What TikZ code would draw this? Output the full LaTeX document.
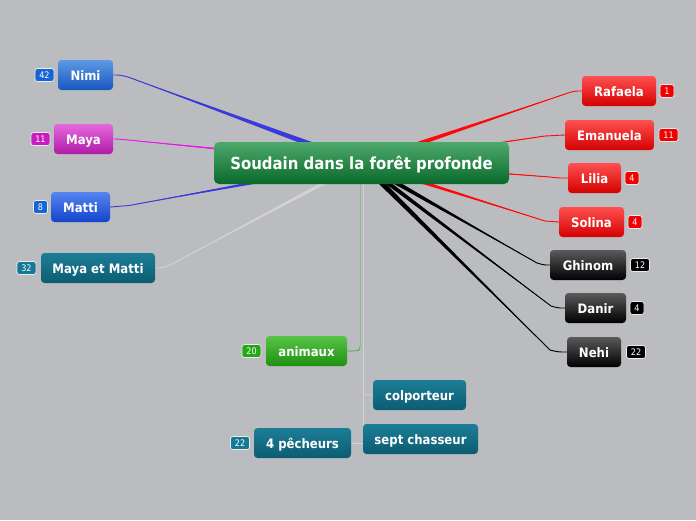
\documentclass[tikz,border=0pt]{standalone}
\usepackage{fontspec}
\setmainfont{DejaVu Sans Condensed}
\usetikzlibrary{calc}
\definecolor{bg}{HTML}{BBBCC0}
\definecolor{lblue}{HTML}{3A3AD8}
\definecolor{lmag}{HTML}{F010F0}
\definecolor{lred}{HTML}{FF0808}
\definecolor{lgrey}{HTML}{D2D2D4}
\definecolor{lgreen}{HTML}{3CA83C}
\pgfdeclarelayer{back}
\pgfdeclarelayer{lines}
\pgfsetlayers{back,lines,main}
\newcommand\taper[5]{% color, halfwidth, bend, control, target
  \fill[#1] ($(c)+(0,#2)$) -- (#3) -- ($(c)+(0,-#2)$) -- cycle;
  \draw[#1, line width=0.9pt] (c) -- (#3) .. controls (#4) .. (#5);
}
\begin{document}
\begin{tikzpicture}[x=1pt,y=-1pt,
  box/.style={rounded corners=3.5pt, text=white, minimum height=30, inner sep=0,
    text height=11pt, text depth=0pt,
    font=\bfseries\fontsize{13}{15}\selectfont},
  badge/.style={rounded corners=2.5pt, draw=white!85!gray, line width=0.7pt, text=white,
    minimum height=13, minimum width=19, inner sep=1, font=\fontsize{9}{10}\selectfont},
  bluebox/.style={box, top color=Blue1, bottom color=Blue2},
  mblue/.style={box, top color=MBlue1, bottom color=MBlue2},
  magbox/.style={box, top color=Mag1, bottom color=Mag2},
  tealbox/.style={box, top color=Teal1, bottom color=Teal2},
  redbox/.style={box, top color=Red1, bottom color=Red2},
  blackbox/.style={box, top color=Blk1, bottom color=Blk2},
  greenbox/.style={box, top color=Grn1, bottom color=Grn2},
]
\definecolor{Blue1}{HTML}{5E98E4}\definecolor{Blue2}{HTML}{1858C0}
\definecolor{MBlue1}{HTML}{5584EE}\definecolor{MBlue2}{HTML}{1444CC}
\definecolor{Mag1}{HTML}{E468DC}\definecolor{Mag2}{HTML}{B01CA8}
\definecolor{Teal1}{HTML}{1C7E96}\definecolor{Teal2}{HTML}{0C5C72}
\definecolor{Red1}{HTML}{FF5050}\definecolor{Red2}{HTML}{D40000}
\definecolor{Blk1}{HTML}{5A5A5A}\definecolor{Blk2}{HTML}{000000}
\definecolor{Grn1}{HTML}{58C448}\definecolor{Grn2}{HTML}{1E9010}
\definecolor{CG1}{HTML}{4EAA6C}\definecolor{CG2}{HTML}{08682A}
\definecolor{BadgeBlue}{HTML}{1565D8}
\definecolor{BadgeMag}{HTML}{C81CC0}
\definecolor{BadgeTeal}{HTML}{127A92}
\definecolor{BadgeRed}{HTML}{F00000}
\definecolor{BadgeGrn}{HTML}{24A818}
\begin{pgfonlayer}{back}
\fill[bg] (0,0) rectangle (696,520);
\end{pgfonlayer}
\useasboundingbox (0,0) rectangle (696,520);

% central
\node[box, top color=CG1, bottom color=CG2, minimum width=295, minimum height=42,
  rounded corners=5pt, text height=13.5pt, text depth=0pt,
  font=\bfseries\fontsize{16.6}{18}\selectfont] (c) at (361.5,163) {Soudain dans la forêt profonde};

% left
\node[bluebox, minimum width=55] (nimi) at (85.5,75) {Nimi};
\node[badge, fill=BadgeBlue] (bnimi) at (44.5,75) {42};
\node[magbox, minimum width=59] (maya) at (83.5,139) {Maya};
\node[badge, fill=BadgeMag] (bmaya) at (40.5,139) {11};
\node[mblue, minimum width=59] (matti) at (80.5,207) {Matti};
\node[badge, fill=BadgeBlue, minimum width=14] (bmatti) at (40.5,207) {8};
\node[tealbox, minimum width=114] (mm) at (98,268) {Maya et Matti};
\node[badge, fill=BadgeTeal] (bmm) at (26.5,268) {32};

% right
\node[redbox, minimum width=74] (raf) at (619,91) {Rafaela};
\node[badge, fill=BadgeRed, minimum width=14] (braf) at (667,91) {1};
\node[redbox, minimum width=89] (ema) at (609.5,135) {Emanuela};
\node[badge, fill=BadgeRed] (bema) at (668.5,135) {11};
\node[redbox, minimum width=53] (lil) at (594.5,178) {Lilia};
\node[badge, fill=BadgeRed, minimum width=14] (blil) at (632,178) {4};
\node[redbox, minimum width=65] (sol) at (591.5,222) {Solina};
\node[badge, fill=BadgeRed, minimum width=14] (bsol) at (635,222) {4};
\node[blackbox, minimum width=76] (ghi) at (588,265) {Ghinom};
\node[badge, fill=black] (bghi) at (640,265) {12};
\node[blackbox, minimum width=61] (dan) at (595.5,308) {Danir};
\node[badge, fill=black, minimum width=14] (bdan) at (637,308) {4};
\node[blackbox, minimum width=54] (neh) at (594,352) {Nehi};
\node[badge, fill=black] (bneh) at (636,352) {22};

% bottom
\node[greenbox, minimum width=81] (ani) at (306.5,351) {animaux};
\node[badge, fill=BadgeGrn] (bani) at (251.5,351) {20};
\node[tealbox, minimum width=93] (col) at (419.5,395) {colporteur};
\node[tealbox, minimum width=115] (sept) at (420.5,439) {sept chasseur};
\node[tealbox, minimum width=97] (pec) at (302.5,443) {4 pêcheurs};
\node[badge, fill=BadgeTeal] (bpec) at (240,443) {22};

\begin{pgfonlayer}{lines}
  \coordinate (vt) at (363,175);
  \coordinate (vb) at (363,443);
  \coordinate (gt) at (360,175);
  \draw[lgrey, line width=0.8pt] (vt) -- (vb);
  \draw[lgrey, line width=0.8pt] (363,392) .. controls (364,395) .. (col.west);
  \draw[lgrey, line width=0.8pt] (vb) -- (pec.east);
  \draw[lgreen!45!lgrey, line width=0.7pt] (gt) -- (360,346);
  \draw[lgreen, line width=0.7pt] (360,346) .. controls (360,351) .. (ani.east);
  \taper{lgrey}{2.5}{170,265}{162,268}{mm.east}
  \taper{lblue}{3.5}{128,77}{120,75}{nimi.east}
  \taper{lmag}{2}{123,139.5}{117,139}{maya.east}
  \taper{lblue}{2.5}{129,205.5}{120,207}{matti.east}
  \taper{lred}{3}{568,93}{575,91}{raf.west}
  \taper{lred}{2}{545,136}{555,135}{ema.west}
  \taper{lred}{2}{550,177}{558,178}{lil.west}
  \taper{lred}{2.5}{545,221}{552,222}{sol.west}
  \taper{black}{3}{537,263}{544,265}{ghi.west}
  \taper{black}{3}{551,306}{558,308}{dan.west}
  \taper{black}{4}{550,350}{558,352}{neh.west}
\end{pgfonlayer}
\end{tikzpicture}
\end{document}
